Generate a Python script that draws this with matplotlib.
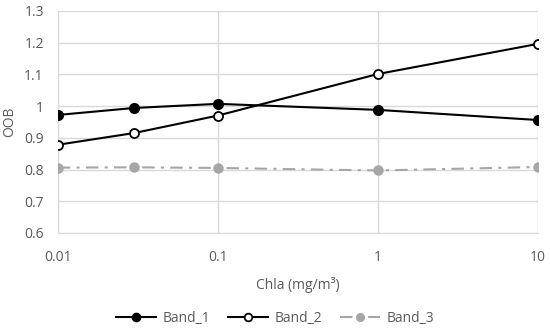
import matplotlib
matplotlib.use("Agg")
import matplotlib.pyplot as plt

chla = [0.01, 0.03, 0.1, 1, 10]
band_1 = [0.972, 0.994, 1.007, 0.988, 0.956]
band_2 = [0.878, 0.915, 0.970, 1.101, 1.196]
band_3 = [0.806, 0.807, 0.805, 0.797, 0.808]
xticks = [0.01, 0.1, 1, 10]
xticklabels = ["0.01", "0.1", "1", "10"]
yticks = [0.6, 0.7, 0.8, 0.9, 1.0, 1.1, 1.2, 1.3]
yticklabels = ["0.6", "0.7", "0.8", "0.9", "1", "1.1", "1.2", "1.3"]

plt.rcParams['font.family'] = ['Open Sans', 'DejaVu Sans']
txt = "#595959"
grid = "#d9d9d9"

fig = plt.figure(figsize=(5.5, 3.3), dpi=100)
ax = fig.add_axes([0.105, 0.294, 0.873, 0.673])

ax.plot(chla, band_1, color="black", lw=1.5, marker="o", ms=7, mfc="black", mec="black", label="Band_1", zorder=3)
ax.plot(chla, band_2, color="black", lw=1.5, marker="o", ms=6.5, mfc="white", mec="black", mew=1.3, label="Band_2", zorder=3)
ax.plot(chla, band_3, color="#a6a6a6", lw=1.5, dashes=(6, 3, 1.5, 3), marker="o", ms=6.5, mfc="#a6a6a6", mec="#a6a6a6", label="Band_3", zorder=3)

ax.set_xscale("log")
ax.set_xlim(0.01, 10)
ax.set_ylim(0.6, 1.3)
ax.set_xticks(xticks)
ax.set_xticklabels(xticklabels)
ax.minorticks_off()
ax.set_yticks(yticks)
ax.set_yticklabels(yticklabels)
ax.grid(True, color=grid, lw=1)
ax.set_axisbelow(True)
for s in ax.spines.values():
    s.set_visible(False)
ax.spines['left'].set_visible(True)
ax.spines['left'].set_color(grid)
ax.spines['bottom'].set_visible(True)
ax.spines['bottom'].set_color(grid)
ax.tick_params(axis='x', length=0, colors=txt, labelsize=10, pad=12)
ax.tick_params(axis='y', length=0, colors=txt, labelsize=10, pad=10)
ax.set_xlabel("Chla (mg/m³)", color=txt, fontsize=10, labelpad=9)
ax.set_ylabel("OOB", color=txt, fontsize=10, labelpad=5)

leg = fig.legend(loc="lower center", bbox_to_anchor=(0.5, -0.025), ncol=3, frameon=False,
                 fontsize=10, handlelength=2.9, handletextpad=0.45, columnspacing=1.3, markerscale=0.85)
for t in leg.get_texts():
    t.set_color(txt)

fig.savefig("out.png", dpi=100)
